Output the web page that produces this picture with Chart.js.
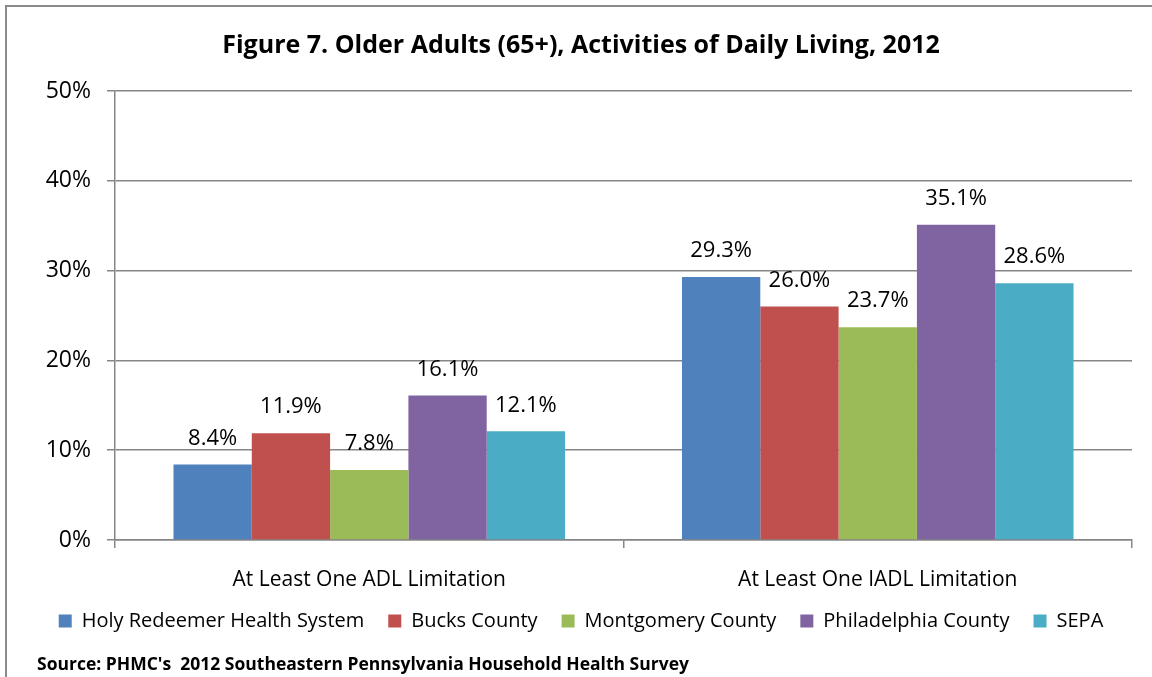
<!DOCTYPE html>
<html>
<head>
<meta charset="utf-8">
<title>Figure 7</title>
<script src="https://cdn.jsdelivr.net/npm/chart.js"></script>
<style>
  html, body { margin: 0; padding: 0; background: #fff; }
  #wrap { position: relative; width: 1152px; height: 677px; }
  #marco {
    position: absolute; left: 5px; top: 5px; width: 1147px; height: 672px;
    border-left: 2px solid #8a8a8a; border-top: 2px solid #8a8a8a;
    pointer-events: none; box-sizing: border-box;
  }
</style>
</head>
<body>
<div id="wrap">
  <canvas id="grafico" width="1152" height="677"></canvas>
  <div id="marco"></div>
</div>
<script>
const categorias = ["At Least One ADL Limitation", "At Least One IADL Limitation"];
const series = ["Holy Redeemer Health System", "Bucks County", "Montgomery County", "Philadelphia County", "SEPA"];
const holyRedeemer = [8.4, 29.3];
const bucks = [11.9, 26.0];
const montgomery = [7.8, 23.7];
const philadelphia = [16.1, 35.1];
const sepa = [12.1, 28.6];
const colores = ["#4F81BD", "#C0504D", "#9BBB59", "#8064A2", "#4BACC6"];
const ticksY = [0, 10, 20, 30, 40, 50];
const textoFuente = "Source: PHMC's  2012 Southeastern Pennsylvania Household Health Survey";

const fuente = "'Open Sans', Lato, sans-serif";
const valores = [holyRedeemer, bucks, montgomery, philadelphia, sepa];

// etiquetas encima de cada barra + nota de fuente
const etiquetasBarras = {
    id: "etiquetasBarras",
    afterDatasetsDraw(chart) {
        const ctx = chart.ctx;
        ctx.save();
        ctx.font = "22px " + fuente;
        ctx.fillStyle = "#000";
        ctx.textAlign = "center";
        ctx.textBaseline = "middle";
        chart.data.datasets.forEach((ds, i) => {
            chart.getDatasetMeta(i).data.forEach((bar, j) => {
                ctx.fillText(ds.data[j].toFixed(1) + "%", bar.x, bar.y - 26);
            });
        });
        ctx.font = "bold 17.5px " + fuente;
        ctx.textAlign = "left";
        ctx.fillText(textoFuente, 37, 665);
        ctx.restore();
    }
};

const ctx = document.getElementById("grafico").getContext("2d");
new Chart(ctx, {
    type: "bar",
    data: {
        labels: categorias,
        datasets: series.map((nombre, i) => ({
            label: nombre,
            data: valores[i],
            backgroundColor: colores[i],
            borderWidth: 0,
            categoryPercentage: 0.77,
            barPercentage: 1
        }))
    },
    options: {
        responsive: false,
        animation: false,
        layout: { padding: { left: 30, right: 20, top: 0, bottom: 36 } },
        plugins: {
            title: {
                display: true,
                text: "Figure 7. Older Adults (65+), Activities of Daily Living, 2012",
                color: "#000",
                font: { family: fuente, size: 25, weight: "bold" },
                padding: { top: 31, bottom: 30 }
            },
            legend: {
                position: "bottom",
                labels: {
                    color: "#000",
                    font: { family: fuente, size: 20 },
                    boxWidth: 13,
                    boxHeight: 13,
                    padding: 24
                }
            },
            tooltip: { enabled: false }
        },
        scales: {
            x: {
                grid: {
                    drawOnChartArea: false,
                    drawTicks: true,
                    tickLength: 8,
                    color: "#868686",
                    lineWidth: 1.5
                },
                border: { color: "#868686", width: 1.5 },
                ticks: {
                    color: "#000",
                    font: { family: fuente, size: 21 },
                    padding: 19
                },
                afterFit(scale) { scale.height = 47; }
            },
            y: {
                min: 0,
                max: 50,
                afterBuildTicks(scale) { scale.ticks = ticksY.map(v => ({ value: v })); },
                grid: {
                    color: "#868686",
                    lineWidth: 1.5,
                    tickLength: 8
                },
                border: { color: "#868686", width: 1.5 },
                ticks: {
                    color: "#000",
                    font: { family: fuente, size: 23 },
                    padding: 16,
                    callback: v => v + "%"
                },
                afterFit(scale) { scale.width = 85; }
            }
        }
    },
    plugins: [etiquetasBarras]
});
</script>
</body>
</html>
